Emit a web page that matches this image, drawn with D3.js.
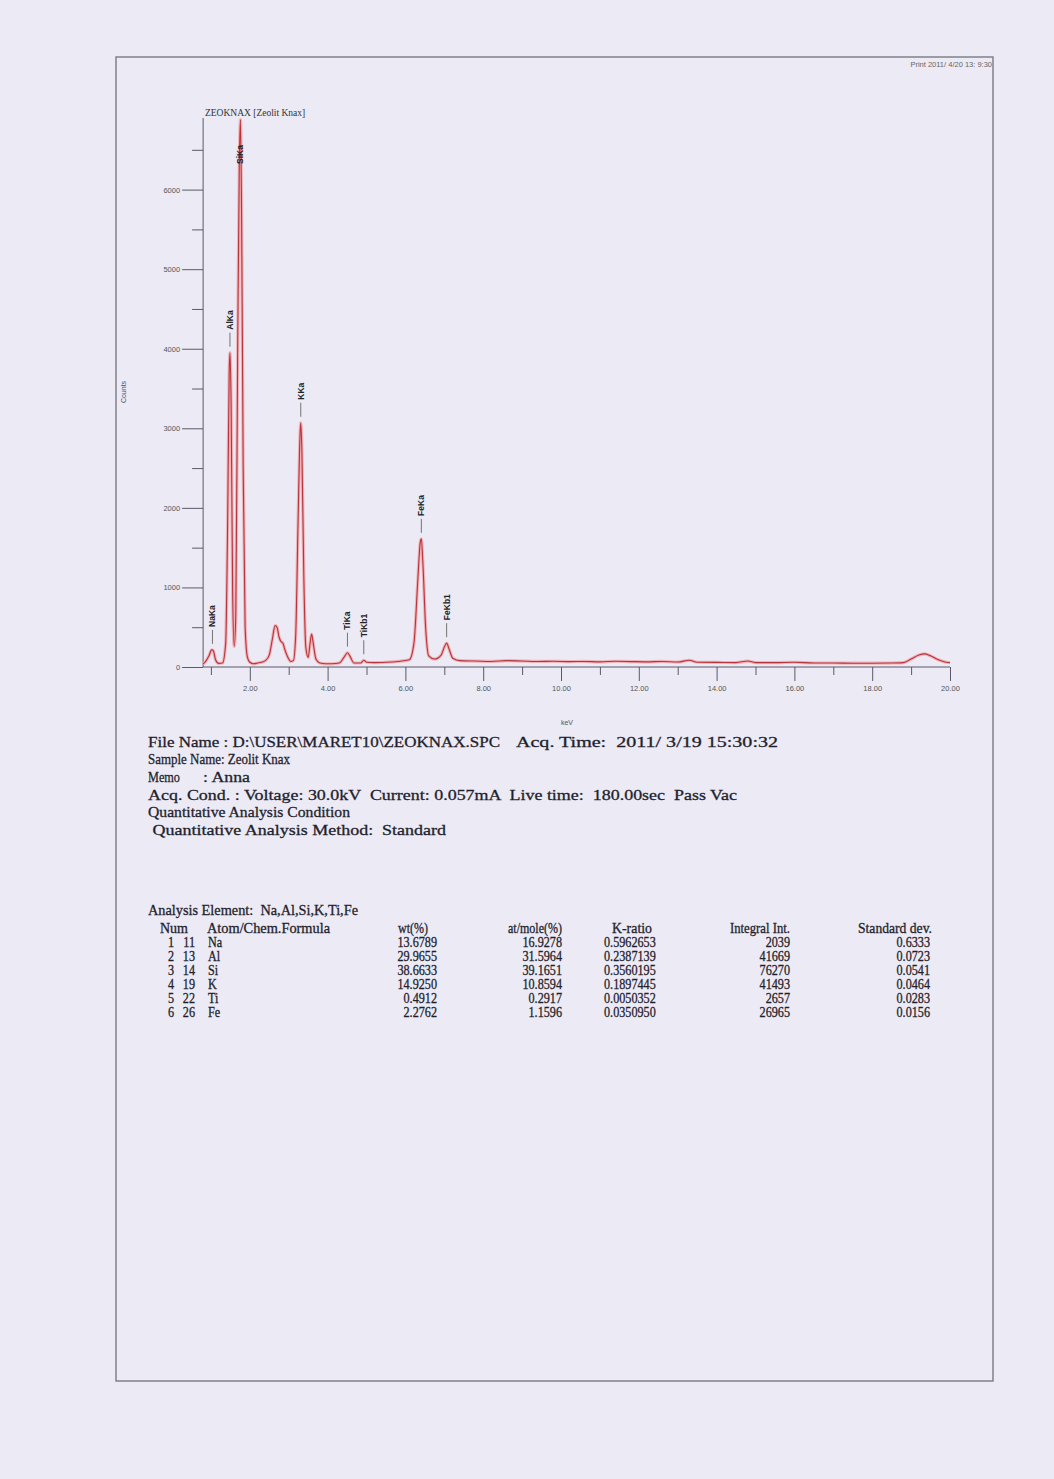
<!DOCTYPE html>
<html>
<head>
<meta charset="utf-8">
<script src="https://cdn.jsdelivr.net/npm/d3@7/dist/d3.min.js"></script>
<style>
  html, body { margin: 0; padding: 0; background: #ebeaf5; }
  svg { display: block; }
  text { font-family: "Liberation Serif", "DejaVu Serif", serif; fill: #1f1f2c; }
  .rep { stroke: #1f1f2c; stroke-width: 0.3px; }
  .axis text { font-family: "Liberation Sans", Arial, sans-serif; font-size: 7.5px; fill: #555; }
  .axis path, .axis line { stroke: #5a5a66; }
  .plab { font-family: "Liberation Sans", Arial, sans-serif; font-size: 8.5px; font-weight: bold; fill: #222; }
</style>
</head>
<body>
<script>
// ---- EDX spectrum of ZEOKNAX (energy in keV, intensity in counts) ----
const energyKeV = [
  0.80, 0.85, 0.95, 1.02, 1.06, 1.12, 1.20, 1.30, 1.38, 1.43, 1.47, 1.49, 1.52, 1.56,
  1.60, 1.64, 1.69, 1.73, 1.76, 1.79, 1.83, 1.88, 1.94, 2.00, 2.10, 2.20, 2.30, 2.40,
  2.50, 2.58, 2.65, 2.70, 2.75, 2.80, 2.85, 2.90, 2.98, 3.05, 3.12, 3.18, 3.24, 3.29,
  3.31, 3.34, 3.39, 3.44, 3.50, 3.55, 3.59, 3.63, 3.70, 3.80, 3.95, 4.10, 4.30, 4.42,
  4.51, 4.58, 4.68, 4.85, 4.93, 5.00, 5.20, 5.50, 5.80, 6.10, 6.22, 6.32, 6.38, 6.41,
  6.45, 6.52, 6.60, 6.75, 6.92, 7.00, 7.06, 7.12, 7.22, 7.40, 7.80, 8.20, 8.60, 9.00,
  9.40, 9.80, 10.20, 10.60, 11.00, 11.40, 11.80, 12.20, 12.60, 13.00, 13.30, 13.50,
  14.00, 14.50, 14.80, 15.00, 15.50, 16.00, 16.50, 17.00, 17.50, 18.00, 18.50, 18.80,
  19.00, 19.20, 19.35, 19.50, 19.70, 19.90, 20.00
];
const counts = [
  40, 60, 140, 215, 205, 90, 45, 50, 300, 1800, 3700, 3950, 3300, 900,
  260, 650, 4100, 6300, 6880, 5600, 2500, 500, 120, 60, 40, 50, 60, 80,
  150, 350, 520, 500, 380, 320, 300, 220, 120, 70, 80, 400, 1800, 2900,
  3070, 2700, 1100, 250, 120, 300, 415, 300, 100, 50, 40, 40, 50, 120,
  180, 130, 50, 50, 85, 60, 55, 60, 70, 90, 300, 1100, 1560, 1610,
  1300, 500, 140, 100, 150, 250, 300, 230, 110, 80, 75, 70, 80, 75,
  70, 72, 68, 70, 65, 72, 68, 65, 70, 62, 85, 60,
  58, 55, 75, 55, 55, 60, 50, 50, 48, 48, 50, 55,
  100, 150, 165, 140, 90, 60, 55
];

// ---- peak identification labels ----
const peakNames  = ["NaKa", "AlKa", "SiKa", "KKa", "TiKa", "TiKb1", "FeKa", "FeKb1"];
const peakKeV    = [1.04, 1.49, 1.75, 3.31, 4.51, 4.93, 6.41, 7.06];
const peakCounts = [215, 3950, 6880, 3070, 180, 85, 1610, 300];

// ---- axes ----
const xMajorTicks = [2, 4, 6, 8, 10, 12, 14, 16, 18, 20];
const xMinorTicks = [1, 3, 5, 7, 9, 11, 13, 15, 17, 19];
const yMajorTicks = [0, 1000, 2000, 3000, 4000, 5000, 6000];
const yMinorTicks = [500, 1500, 2500, 3500, 4500, 5500, 6500];

// ---- report text ----
const specTitle = "ZEOKNAX [Zeolit Knax]";
const printStamp = "Print 2011/ 4/20 13: 9:30";
const headerLines = [
  "File Name : D:\\USER\\MARET10\\ZEOKNAX.SPC",
  "Sample Name: Zeolit Knax",
  "Memo",
  "Acq. Cond. : Voltage: 30.0kV  Current: 0.057mA  Live time:  180.00sec  Pass Vac",
  "Quantitative Analysis Condition",
  " Quantitative Analysis Method:  Standard"
];
const acqTime = "Acq. Time:  2011/ 3/19 15:30:32";
const memoValue = ": Anna";
const elementLine = "Analysis Element:  Na,Al,Si,K,Ti,Fe";

const tableHeaders = ["Num", "Atom/Chem.Formula", "wt(%)", "at/mole(%)", "K-ratio", "Integral Int.", "Standard dev."];
const rowNum   = ["1", "2", "3", "4", "5", "6"];
const atomicNo = ["11", "13", "14", "19", "22", "26"];
const symbols  = ["Na", "Al", "Si", "K", "Ti", "Fe"];
const wtPct    = ["13.6789", "29.9655", "38.6633", "14.9250", "0.4912", "2.2762"];
const atMole   = ["16.9278", "31.5964", "39.1651", "10.8594", "0.2917", "1.1596"];
const kRatio   = ["0.5962653", "0.2387139", "0.3560195", "0.1897445", "0.0050352", "0.0350950"];
const integral = ["2039", "41669", "76270", "41493", "2657", "26965"];
const stdDev   = ["0.6333", "0.0723", "0.0541", "0.0464", "0.0283", "0.0156"];

// ================= drawing =================
const W = 1054, H = 1479;
const svg = d3.select("body").append("svg").attr("width", W).attr("height", H);

svg.append("rect").attr("width", W).attr("height", H).attr("fill", "#ebeaf5");

// page frame
svg.append("rect")
  .attr("x", 116).attr("y", 57).attr("width", 877).attr("height", 1324)
  .attr("fill", "none").attr("stroke", "#7a7a86").attr("stroke-width", 1.4);

svg.append("text").attr("x", 992).attr("y", 67).attr("text-anchor", "end")
  .style("font-family", "Liberation Sans, Arial, sans-serif")
  .style("font-size", "7.5px").style("fill", "#666").text(printStamp);

// scales
const x = d3.scaleLinear().domain([0, 20]).range([172, 950]);
const y = d3.scaleLinear().domain([0, 6900]).range([667, 118]);
const xStart = energyKeV[0];

// axes
const gx = svg.append("g").attr("class", "axis").attr("transform", "translate(0,667)");
gx.call(d3.axisBottom(x).tickValues(xMajorTicks).tickFormat(d3.format(".2f")).tickSize(14).tickPadding(5));
gx.select(".domain").attr("d", `M${x(xStart)},0H${x(20)}`);
const gxm = svg.append("g").attr("class", "axis").attr("transform", "translate(0,667)");
gxm.call(d3.axisBottom(x).tickValues(xMinorTicks).tickFormat("").tickSize(8));
gxm.select(".domain").remove();

const y0 = x(xStart);
const gy = svg.append("g").attr("class", "axis").attr("transform", `translate(${y0},0)`);
gy.call(d3.axisLeft(y).tickValues(yMajorTicks).tickFormat(d3.format("d")).tickSize(21).tickPadding(2));
gy.select(".domain").attr("d", `M0,${y(0)}V${y.range()[1]}`);
const gym = svg.append("g").attr("class", "axis").attr("transform", `translate(${y0},0)`);
gym.call(d3.axisLeft(y).tickValues(yMinorTicks).tickFormat("").tickSize(11));
gym.select(".domain").remove();

svg.append("text").attr("transform", "translate(126,392) rotate(-90)")
  .attr("text-anchor", "middle")
  .style("font-family", "Liberation Sans, Arial, sans-serif").style("font-size", "7px").style("fill", "#555")
  .text("Counts");
svg.append("text").attr("x", 567).attr("y", 725).attr("text-anchor", "middle")
  .style("font-family", "Liberation Sans, Arial, sans-serif").style("font-size", "7px").style("fill", "#555")
  .text("keV");

svg.append("text").attr("x", 205).attr("y", 116)
  .style("font-size", "9.5px").style("fill", "#333").text(specTitle);

// spectrum trace
const spec = energyKeV.map((e, i) => [e, counts[i]]);
const line = d3.line().x(d => x(d[0])).y(d => y(d[1])).curve(d3.curveMonotoneX);
svg.append("path").datum(spec).attr("d", line)
  .attr("fill", "none").attr("stroke", "#f0b2b8").attr("stroke-width", 3.2).attr("stroke-linejoin", "round");
svg.append("path").datum(spec).attr("d", line)
  .attr("fill", "none").attr("stroke", "#b8333a").attr("stroke-width", 1.1).attr("stroke-linejoin", "round");

// peak labels: short leader line above the peak, name written vertically above it
const topLimit = 145;
peakNames.forEach((name, i) => {
  const px = x(peakKeV[i]);
  const py = y(peakCounts[i]);
  const g = svg.append("g");
  const t = g.append("text").attr("class", "plab").text(name);
  const len = t.node().getComputedTextLength();
  let base = py - 23;
  if (base - len < topLimit) {
    base = topLimit + len;
  } else {
    g.append("line").attr("x1", px).attr("x2", px).attr("y1", py - 6).attr("y2", py - 20)
      .attr("stroke", "#555").attr("stroke-width", 0.8);
  }
  t.attr("transform", `translate(${px + 3},${base}) rotate(-90)`);
});

// text helper: narrow serif type, squeezed to a given run width
function narrowText(xp, yp, s, size, width, anchor) {
  const t = svg.append("text").attr("class", "rep").attr("x", xp).attr("y", yp)
    .attr("text-anchor", anchor || "start")
    .attr("xml:space", "preserve")
    .style("font-size", size + "px").text(s);
  const natural = t.node().getComputedTextLength();
  const w = width || natural * 0.84;
  t.attr("textLength", w).attr("lengthAdjust", "spacingAndGlyphs");
  return t;
}

// ---- report header ----
const lineY = [747, 764, 782, 800, 817, 835];
const lineW = [352, 142, 32, 589, 202, 298];
headerLines.forEach((s, i) => narrowText(148, lineY[i], s, 15.5, lineW[i]));
narrowText(516, lineY[0], acqTime, 15.5, 262);
narrowText(203, lineY[2], memoValue, 15.5, 47);
narrowText(148, 915, elementLine, 15.5, 210);

// ---- quantitative table ----
const headY = 933;
const hdrPos = [[160, 28], [207, 123], [398, 30], [508, 54], [612, 40], [730, 60], [858, 74]];
tableHeaders.forEach((h, i) => narrowText(hdrPos[i][0], headY, h, 14.5, hdrPos[i][1]));

const rowY = d3.range(6).map(i => 947 + i * 14);
const cols = [
  [rowNum, 174, "end"], [atomicNo, 195, "end"], [symbols, 208, "start"],
  [wtPct, 437, "end"], [atMole, 562, "end"], [kRatio, 604, "start"],
  [integral, 790, "end"], [stdDev, 930, "end"]
];
cols.forEach(([vals, cx, anchor]) => {
  vals.forEach((v, i) => narrowText(cx, rowY[i], v, 14.5, null, anchor));
});
</script>
</body>
</html>
